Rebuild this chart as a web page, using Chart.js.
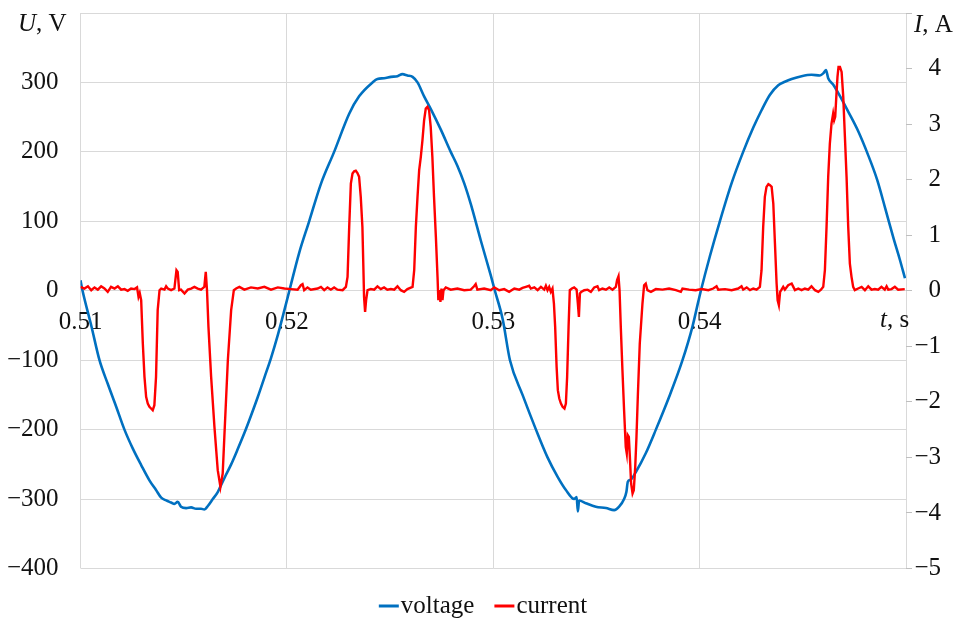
<!DOCTYPE html>
<html>
<head>
<meta charset="utf-8">
<script src="https://cdn.jsdelivr.net/npm/chart.js@4.4.0/dist/chart.umd.min.js"></script>
<style>
  html, body { margin: 0; padding: 0; background: #ffffff; }
  #wrap { width: 966px; height: 624px; }
</style>
</head>
<body>
<div id="wrap"><canvas id="chart" width="966" height="624"></canvas></div>
<script>
// Supply voltage U (V) over time t (s)
const voltageTime = [
  0.51000, 0.51010, 0.51052, 0.51092, 0.51132, 0.51173, 0.51213, 0.51253, 0.51294, 0.51334,
  0.51366, 0.51391, 0.51415, 0.51439, 0.51455, 0.51471, 0.51487, 0.51512, 0.51536, 0.51560,
  0.51584, 0.51600, 0.51617, 0.51641, 0.51665, 0.51681, 0.51705, 0.51730, 0.51762, 0.51794,
  0.51826, 0.51859, 0.51891, 0.51923, 0.51956, 0.51988, 0.52012,
  0.52060, 0.52108, 0.52165, 0.52229, 0.52302, 0.52350, 0.52415, 0.52439, 0.52471, 0.52504,
  0.52536, 0.52560, 0.52584, 0.52609, 0.52633, 0.52665, 0.52697, 0.52746, 0.52794, 0.52826,
  0.52859, 0.52891, 0.52940, 0.52988, 0.53008,
  0.53045, 0.53081, 0.53142, 0.53207, 0.53263, 0.53312, 0.53352, 0.53392, 0.53404, 0.53410,
  0.53416, 0.53449, 0.53497, 0.53546, 0.53586, 0.53610, 0.53634, 0.53645, 0.53652, 0.53666,
  0.53691, 0.53739, 0.53788, 0.53852, 0.53917, 0.53965, 0.53994, 0.54006,
  0.54050, 0.54098, 0.54155, 0.54211, 0.54260, 0.54300, 0.54340, 0.54381, 0.54413, 0.54446,
  0.54494, 0.54542, 0.54583, 0.54599, 0.54612, 0.54623, 0.54647, 0.54688, 0.54720, 0.54768,
  0.54817, 0.54860, 0.54900, 0.54940, 0.54970, 0.54995
];
const voltageValues = [
  15, 0, -50, -100, -134, -167, -200, -227, -251, -273,
  -287, -298, -302, -305, -307, -304, -311, -313, -312, -314,
  -314, -315, -310, -300, -290, -280, -265, -250, -228, -205,
  -180, -153, -125, -97, -64, -28, 0,
  55, 100, 154, 200, 255, 280, 300, 305, 306, 308,
  309, 312, 310, 308, 300, 280, 262, 232, 200, 180,
  155, 125, 72, 22, 0,
  -40, -100, -150, -200, -240, -268, -287, -300, -297, -318,
  -302, -306, -311, -313, -316, -311, -300, -290, -275, -272,
  -261, -234, -200, -153, -100, -52, -15, 0,
  50, 100, 155, 200, 235, 260, 282, 296, 301, 305,
  309, 311, 310, 313, 318, 306, 297, 276, 258, 230,
  195, 160, 118, 75, 45, 18
];

// Load current I (A) over time t (s)
const currentTime = [
  0.51000, 0.51019, 0.51036, 0.51052, 0.51068, 0.51084, 0.51100, 0.51116, 0.51132, 0.51148,
  0.51165, 0.51181, 0.51197, 0.51213, 0.51229, 0.51245, 0.51262, 0.51274, 0.51281, 0.51287,
  0.51294, 0.51302, 0.51310, 0.51318, 0.51326, 0.51334, 0.51342, 0.51350, 0.51358, 0.51366,
  0.51374, 0.51383, 0.51391, 0.51407, 0.51415, 0.51423, 0.51439, 0.51455, 0.51465, 0.51471,
  0.51478, 0.51487, 0.51504, 0.51520, 0.51536, 0.51552, 0.51568, 0.51584, 0.51600, 0.51607,
  0.51613, 0.51620, 0.51633, 0.51649, 0.51665, 0.51678, 0.51689, 0.51697, 0.51714, 0.51730,
  0.51743, 0.51754, 0.51770, 0.51794, 0.51826, 0.51859, 0.51891, 0.51923, 0.51956, 0.51988,
  0.52019, 0.52052, 0.52068, 0.52076, 0.52084, 0.52100, 0.52116, 0.52149, 0.52165, 0.52181,
  0.52197, 0.52213, 0.52229, 0.52245, 0.52270, 0.52286, 0.52294, 0.52302, 0.52310, 0.52318,
  0.52326, 0.52334, 0.52342, 0.52350, 0.52358, 0.52366, 0.52371, 0.52374, 0.52379, 0.52384,
  0.52391, 0.52407, 0.52423, 0.52439, 0.52455, 0.52471, 0.52487, 0.52504, 0.52520, 0.52536,
  0.52552, 0.52568, 0.52584, 0.52609, 0.52617, 0.52625, 0.52633, 0.52641, 0.52649, 0.52657,
  0.52665, 0.52673, 0.52681, 0.52689, 0.52697, 0.52705, 0.52713, 0.52722, 0.52730, 0.52734,
  0.52739, 0.52744, 0.52749, 0.52754, 0.52759, 0.52770, 0.52794, 0.52826, 0.52859, 0.52891,
  0.52907, 0.52915, 0.52923, 0.52956, 0.52988,
  0.53005, 0.53029, 0.53053, 0.53077, 0.53102, 0.53126, 0.53142, 0.53158, 0.53174, 0.53182,
  0.53199, 0.53215, 0.53231, 0.53247, 0.53255, 0.53263, 0.53271, 0.53279, 0.53287, 0.53294,
  0.53300, 0.53307, 0.53313, 0.53320, 0.53328, 0.53336, 0.53345, 0.53352, 0.53358, 0.53365,
  0.53371, 0.53381, 0.53392, 0.53404, 0.53410, 0.53415, 0.53420, 0.53426, 0.53441, 0.53457,
  0.53473, 0.53489, 0.53505, 0.53513, 0.53529, 0.53546, 0.53562, 0.53578, 0.53594, 0.53600,
  0.53607, 0.53612, 0.53618, 0.53626, 0.53634, 0.53642, 0.53647, 0.53652, 0.53657, 0.53662,
  0.53668, 0.53675, 0.53681, 0.53688, 0.53694, 0.53701, 0.53710, 0.53723, 0.53731, 0.53739,
  0.53747, 0.53764, 0.53788, 0.53820, 0.53852, 0.53885, 0.53909, 0.53917, 0.53949, 0.53981,
  0.54010, 0.54042, 0.54066, 0.54082, 0.54090, 0.54123, 0.54155, 0.54187, 0.54203, 0.54211,
  0.54228, 0.54244, 0.54260, 0.54276, 0.54292, 0.54300, 0.54308, 0.54316, 0.54324, 0.54333,
  0.54341, 0.54349, 0.54357, 0.54365, 0.54373, 0.54378, 0.54384, 0.54390, 0.54397, 0.54405,
  0.54413, 0.54429, 0.54446, 0.54454, 0.54462, 0.54478, 0.54494, 0.54510, 0.54526, 0.54542,
  0.54559, 0.54575, 0.54588, 0.54599, 0.54607, 0.54615, 0.54623, 0.54631, 0.54639, 0.54647,
  0.54652, 0.54657, 0.54663, 0.54668, 0.54673, 0.54680, 0.54688, 0.54696, 0.54704, 0.54712,
  0.54720, 0.54728, 0.54736, 0.54744, 0.54752, 0.54768, 0.54785, 0.54801, 0.54817, 0.54833,
  0.54849, 0.54865, 0.54881, 0.54897, 0.54906, 0.54914, 0.54930, 0.54946, 0.54962, 0.54994
];
const currentValues = [
  0.07, 0.04, 0.08, 0.01, 0.06, 0.02, 0.08, 0.04, -0.02, 0.07,
  0.04, 0.08, 0.02, 0.03, 0.00, 0.04, 0.03, 0.06, -0.11, -0.04,
  -0.17, -0.95, -1.55, -1.91, -2.03, -2.09, -2.12, -2.15, -2.06, -1.55,
  -0.35, 0.01, 0.04, 0.02, 0.08, 0.04, 0.01, 0.04, 0.37, 0.34,
  0.01, 0.02, -0.05, 0.02, 0.04, 0.07, 0.04, 0.02, 0.07, 0.34,
  0.01, -0.65, -1.55, -2.45, -3.23, -3.53, -3.29, -2.63, -1.25, -0.35,
  0.01, 0.04, 0.07, 0.02, 0.06, 0.04, 0.07, 0.02, 0.06, 0.04,
  0.03, 0.02, 0.10, 0.12, 0.01, 0.06, 0.02, 0.04, 0.07, 0.01,
  0.06, 0.02, 0.06, 0.02, 0.01, 0.07, 0.25, 1.15, 1.93, 2.11,
  2.15, 2.16, 2.12, 2.05, 1.69, 1.15, 0.37, -0.11, -0.38, -0.17,
  0.01, 0.03, 0.02, 0.08, 0.03, 0.06, 0.02, 0.03, 0.02, 0.08,
  0.01, -0.02, 0.03, 0.07, 0.37, 1.15, 1.69, 2.17, 2.41, 2.71,
  3.07, 3.28, 3.31, 3.25, 2.95, 2.41, 1.69, 0.97, 0.25, -0.17,
  0.01, -0.20, 0.04, -0.17, 0.01, 0.06, 0.02, 0.04, 0.01, 0.02,
  0.08, 0.12, 0.02, 0.04, 0.01,
  0.06, 0.01, 0.03, -0.02, 0.04, 0.02, 0.05, 0.07, 0.09, 0.04,
  0.06, 0.01, 0.07, 0.02, 0.09, 0.01, 0.07, -0.02, 0.04, -0.23,
  -0.65, -1.37, -1.79, -1.94, -2.03, -2.09, -2.12, -2.03, -1.55, -0.65,
  0.01, 0.04, 0.06, 0.02, -0.23, -0.47, -0.05, -0.02, 0.01, 0.02,
  -0.02, 0.06, 0.08, 0.01, 0.04, 0.02, 0.06, 0.02, 0.07, 0.19,
  0.26, 0.01, -0.65, -1.43, -2.15, -2.81, -2.93, -2.60, -2.63, -2.99,
  -3.47, -3.65, -3.59, -3.17, -2.63, -1.85, -0.95, -0.23, 0.10, 0.13,
  0.01, -0.02, 0.03, 0.02, 0.04, 0.01, -0.02, 0.04, 0.02, 0.01,
  0.03, 0.01, 0.04, 0.08, 0.02, 0.03, 0.01, 0.04, 0.08, 0.02,
  0.06, 0.01, 0.04, 0.02, 0.07, 0.37, 1.15, 1.69, 1.87, 1.92,
  1.90, 1.87, 1.57, 0.85, 0.13, -0.17, -0.26, -0.02, 0.02, 0.07,
  0.02, 0.10, 0.13, 0.07, 0.01, 0.04, 0.01, 0.04, 0.02, 0.08,
  0.01, -0.02, 0.02, 0.07, 0.37, 1.15, 2.05, 2.65, 3.01, 3.19,
  3.07, 3.13, 3.54, 3.85, 4.03, 4.03, 3.94, 3.49, 2.77, 2.05,
  1.15, 0.49, 0.25, 0.07, 0.01, 0.04, 0.07, 0.01, 0.08, 0.02,
  0.03, 0.02, 0.07, 0.02, 0.08, 0.02, 0.03, 0.07, 0.02, 0.03
];

// Axis ranges and steps
const timeRange = [0.51, 0.55];
const timeStep = 0.01;
const voltageRange = [-400, 400];
const voltageStep = 100;
const currentRange = [-5, 5];
const currentStep = 1;

const seriesNames = ['voltage', 'current'];
const seriesColors = ['#0070C0', '#FF0000'];

const FONT_FAMILY = '"Liberation Serif", "Times New Roman", serif';
const FONT_SIZE = 25;
const TEXT_COLOR = '#111111';
const GRID_COLOR = '#d9d9d9';

const toPoints = (ts, vs) => ts.map((t, i) => ({ x: t, y: vs[i] }));
const minus = v => (v < 0 ? '\u2212' + Math.abs(v) : String(v));

// Axis captions and the legend row, drawn on the canvas after the chart
const captionPlugin = {
  id: 'captions',
  afterDraw(chart) {
    const ctx = chart.ctx;
    const area = chart.chartArea;
    const italic = 'italic ' + FONT_SIZE + 'px ' + FONT_FAMILY;
    const upright = FONT_SIZE + 'px ' + FONT_FAMILY;
    ctx.save();
    ctx.fillStyle = TEXT_COLOR;
    ctx.textBaseline = 'middle';
    ctx.textAlign = 'left';
    const caption = (x, y, sym, rest) => {
      ctx.font = italic;
      ctx.fillText(sym, x, y);
      const w = ctx.measureText(sym).width;
      ctx.font = upright;
      ctx.fillText(rest, x + w, y);
    };
    caption(18, area.top + 11, 'U', ', V');
    caption(area.right + 8, area.top + 12, 'I', ', A');
    const y0 = chart.scales.y.getPixelForValue(0);
    caption(area.right - 26, y0 + 30, 't', ', s');

    // legend: short line swatch followed by the series name
    ctx.font = upright;
    const swatch = 20, gap = 2, spacing = 20;
    const widths = seriesNames.map(n => ctx.measureText(n).width);
    const total = widths.reduce((a, b) => a + b, 0) + seriesNames.length * (swatch + gap) + spacing * (seriesNames.length - 1);
    let x = chart.width / 2 - total / 2;
    const ly = 606;
    seriesNames.forEach((name, i) => {
      ctx.strokeStyle = seriesColors[i];
      ctx.lineWidth = 3;
      ctx.beginPath();
      ctx.moveTo(x, ly);
      ctx.lineTo(x + swatch, ly);
      ctx.stroke();
      x += swatch + gap;
      ctx.fillText(name, x, ly);
      x += widths[i] + spacing;
    });
    ctx.restore();
  }
};

new Chart(document.getElementById('chart'), {
  type: 'line',
  data: {
    datasets: [
      {
        label: seriesNames[0],
        data: toPoints(voltageTime, voltageValues),
        yAxisID: 'y',
        borderColor: seriesColors[0],
        backgroundColor: seriesColors[0],
        borderWidth: 2.6,
        pointRadius: 0,
        cubicInterpolationMode: 'monotone',
        order: 2
      },
      {
        label: seriesNames[1],
        data: toPoints(currentTime, currentValues),
        yAxisID: 'y1',
        borderColor: seriesColors[1],
        backgroundColor: seriesColors[1],
        borderWidth: 2.4,
        pointRadius: 0,
        tension: 0,
        order: 1
      }
    ]
  },
  options: {
    responsive: false,
    animation: false,
    devicePixelRatio: 1,
    layout: { padding: { top: 13, bottom: 55.5, left: 0, right: 25 } },
    plugins: {
      legend: { display: false },
      tooltip: { enabled: false }
    },
    scales: {
      x: {
        type: 'linear',
        position: { y: 0 },
        min: timeRange[0],
        max: timeRange[1],
        grid: { color: GRID_COLOR, lineWidth: 1, drawTicks: false },
        border: { display: false },
        ticks: {
          stepSize: timeStep,
          autoSkip: false,
          maxRotation: 0,
          padding: 19,
          color: TEXT_COLOR,
          font: { family: FONT_FAMILY, size: FONT_SIZE, lineHeight: 1 },
          callback: v => (Math.abs(v - timeRange[1]) < 1e-9 ? '' : Number(v).toFixed(2))
        },
        afterFit: s => { s.height = 0; }
      },
      y: {
        type: 'linear',
        position: 'left',
        min: voltageRange[0],
        max: voltageRange[1],
        grid: { color: GRID_COLOR, lineWidth: 1, drawTicks: true, tickLength: 22, tickColor: 'rgba(0,0,0,0)' },
        border: { display: false },
        ticks: {
          stepSize: voltageStep,
          padding: 0,
          color: TEXT_COLOR,
          font: { family: FONT_FAMILY, size: FONT_SIZE, lineHeight: 1 },
          callback: v => (v === voltageRange[1] ? '' : minus(v))
        },
        afterFit: s => { s.width = 80.5; }
      },
      y1: {
        type: 'linear',
        position: 'right',
        min: currentRange[0],
        max: currentRange[1],
        grid: { drawOnChartArea: false, drawTicks: true, tickLength: 6, color: '#bfbfbf' },
        border: { display: false },
        ticks: {
          stepSize: currentStep,
          padding: 0,
          crossAlign: 'far',
          color: TEXT_COLOR,
          font: { family: FONT_FAMILY, size: FONT_SIZE, lineHeight: 1 },
          callback: v => (v === currentRange[1] ? '' : minus(v))
        },
        afterFit: s => { s.width = 35; }
      }
    }
  },
  plugins: [captionPlugin]
});
</script>
</body>
</html>
